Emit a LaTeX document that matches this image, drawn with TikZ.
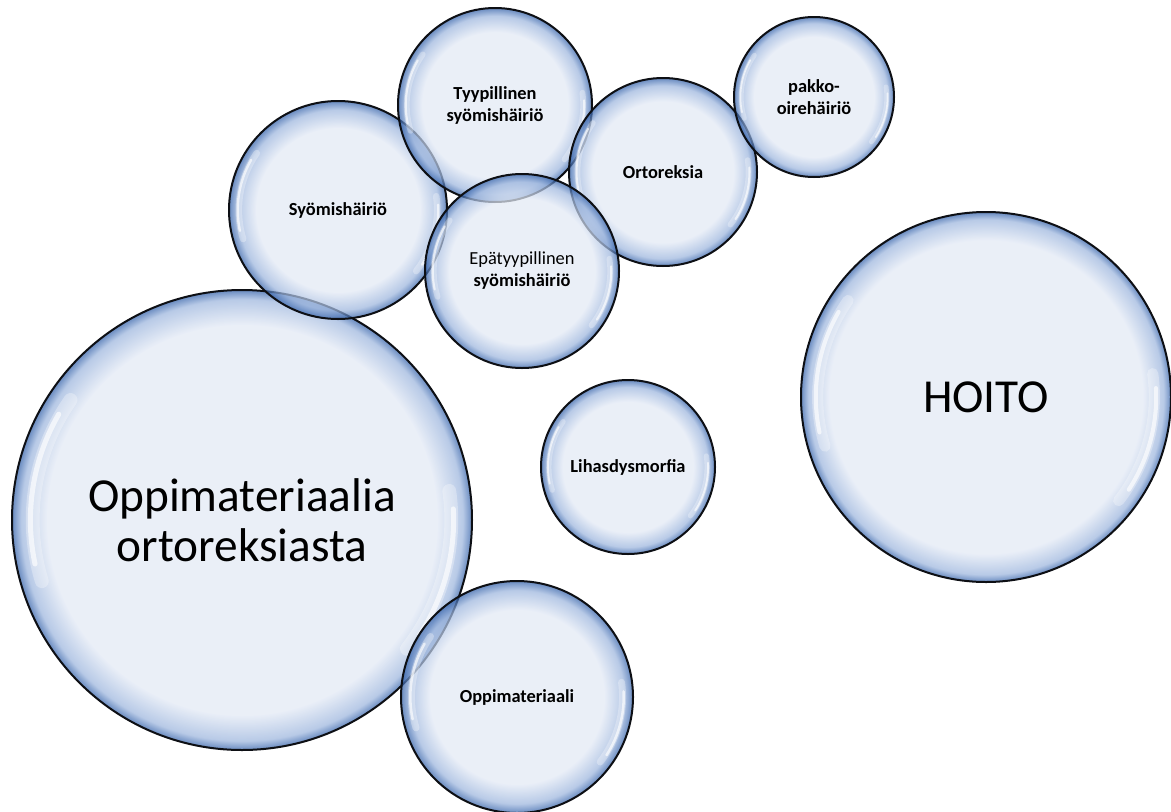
\documentclass[tikz,border=0pt]{standalone}
\usepackage{fontspec}
\setmainfont{Carlito}
\usetikzlibrary{calc}

% glassy bubble colours
\definecolor{bIn}{HTML}{E2E9F5}
\definecolor{bMid}{HTML}{9DB6DE}
\definecolor{bEdge}{HTML}{2F5EA8}
\definecolor{bLine}{HTML}{0D0F14}

% light centre, blue rim (25bp = circle radius once fitted to the path)
\pgfdeclareradialshading{bubbleshade}{\pgfpoint{0bp}{0bp}}{%
  color(0bp)=(bIn); color(18.8bp)=(bIn); color(23bp)=(bMid);
  color(25bp)=(bEdge); color(50bp)=(bEdge)}
% same, with a narrower rim for the large bubbles
\pgfdeclareradialshading{bigbubbleshade}{\pgfpoint{0bp}{0bp}}{%
  color(0bp)=(bIn); color(21.2bp)=(bIn); color(24bp)=(bMid);
  color(25bp)=(bEdge); color(50bp)=(bEdge)}

\tikzset{
  bubble/.style={circle, draw=bLine, line width=1.5pt, shade, shading=bubbleshade,
    fill opacity=0.72, text opacity=1, inner sep=0pt, align=center,
    font=\bfseries\fontsize{13.8}{16.5}\selectfont},
  biglabel/.style={shading=bigbubbleshade, font=\mdseries\fontsize{35.5}{37.5}\selectfont},
  glint/.style={draw=white, line cap=round},
}

% #2 name, #3 x, #4 y, #5 radius (px), #6 label
\newcommand\drawbubble[6][]{%
  \node[bubble, minimum size={2*#5*0.75pt}, #1] (#2) at (#3,#4) {#6};
  \draw[glint, opacity=0.3, line width={0.06*#5*0.75pt}]
    (#2.center) ++(145:{0.91*#5*0.75pt})
    arc[start angle=145, end angle=197, radius={0.91*#5*0.75pt}];
  \draw[glint, opacity=0.65, line width={0.022*#5*0.75pt}]
    (#2.center) ++(150:{0.92*#5*0.75pt})
    arc[start angle=150, end angle=192, radius={0.92*#5*0.75pt}];
  \draw[glint, opacity=0.3, line width={0.06*#5*0.75pt}]
    (#2.center) ++(-38:{0.91*#5*0.75pt})
    arc[start angle=-38, end angle=8, radius={0.91*#5*0.75pt}];
  \draw[glint, opacity=0.65, line width={0.022*#5*0.75pt}]
    (#2.center) ++(-33:{0.92*#5*0.75pt})
    arc[start angle=-33, end angle=3, radius={0.92*#5*0.75pt}];
}

\begin{document}
\begin{tikzpicture}[x=0.75pt, y=-0.75pt]
  \useasboundingbox (0,0) rectangle (1171,811);
  \fill[white] (0,0) rectangle (1171,811);

  \drawbubble[biglabel]{main}{242}{520}{230}{Oppimateriaalia\\ortoreksiasta}
  \drawbubble{syo}{338}{210}{109}{Syömishäiriö}
  \drawbubble{tyyp}{495}{105}{97}{Tyypillinen\\syömishäiriö}
  \drawbubble{orto}{663}{172}{94}{Ortoreksia}
  \drawbubble{pakko}{814}{97}{80}{pakko-\\oirehäiriö}
  \drawbubble{epa}{522}{271}{97}{{\mdseries Epätyypillinen}\\syömishäiriö}
  \drawbubble{lihas}{628}{467}{87}{Lihasdysmorfia}
  \drawbubble[biglabel]{hoito}{986}{397}{185}{HOITO}
  \drawbubble{oppi}{517}{697}{116}{Oppimateriaali}
\end{tikzpicture}
\end{document}
